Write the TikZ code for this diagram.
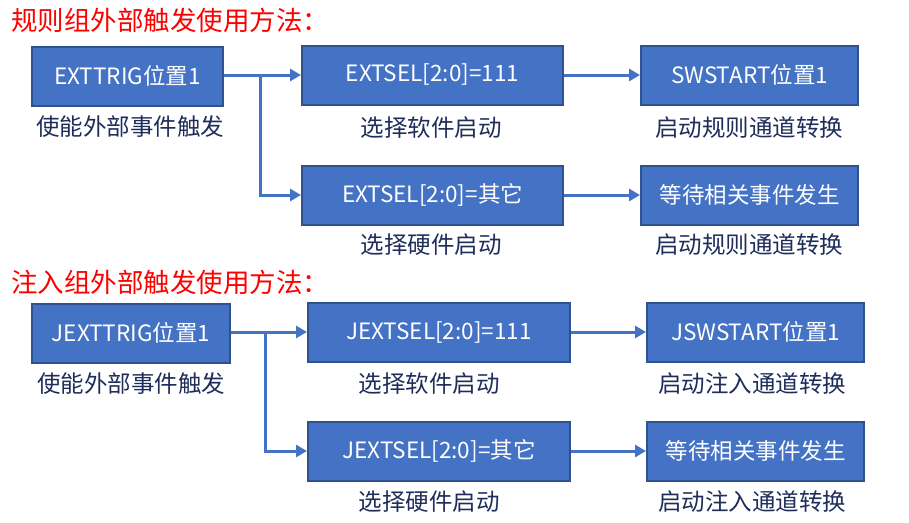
\documentclass[tikz,border=0pt]{standalone}
\usepackage{fontspec}
\setmainfont{Noto Sans CJK SC}
\usetikzlibrary{arrows.meta}
\definecolor{boxfill}{HTML}{4472C4}
\definecolor{boxline}{HTML}{2F528F}
\definecolor{labcol}{HTML}{1F2D5A}
\definecolor{titlecol}{HTML}{FF0000}
\tikzset{
  box/.style={draw=boxline, line width=2pt, fill=boxfill, text=white, inner sep=0pt,
    minimum height=#1, font=\fontsize{22.5}{26}\selectfont},
  box/.default=59pt,
  lab/.style={text=labcol, inner sep=0pt, font=\fontsize{23.5}{27}\selectfont},
  ttl/.style={text=titlecol, inner sep=0pt, anchor=west, font=\fontsize{26.5}{31}\selectfont},
  arr/.style={draw=boxfill, line width=3pt, -{Triangle[length=11pt,width=12pt]}},
}
\begin{document}
\begin{tikzpicture}[x=1pt,y=-1pt]
\useasboundingbox (0,0) rectangle (909,522);
% ---- top section
\node[ttl] (t1) at (11,20) {规则组外部触发使用方法：};
\node[box, minimum width=191pt] (a1) at (127.5,76) {EXTTRIG位置1};
\node[box, minimum width=261pt] (b1) at (432.5,75) {EXTSEL[2:0]=111};
\node[box, minimum width=217pt] (c1) at (749.5,75) {SWSTART位置1};
\node[box, minimum width=261pt] (d1) at (432.5,195) {EXTSEL[2:0]=其它};
\node[box, minimum width=217pt] (e1) at (749.5,195) {等待相关事件发生};
\node[lab] (la1) at (130,127) {使能外部事件触发};
\node[lab] (lb1) at (431,128) {选择软件启动};
\node[lab] (lc1) at (749,128) {启动规则通道转换};
\node[lab] (ld1) at (431,245) {选择硬件启动};
\node[lab] (le1) at (749,245) {启动规则通道转换};
\coordinate (br1) at (260,75);
\draw[arr] (a1.east |- b1.west) -- (b1.west);
\draw[arr] (br1) |- (d1.west);
\draw[arr] (b1.east) -- (c1.west);
\draw[arr] (d1.east) -- (e1.west);
% ---- bottom section
\node[ttl] (t2) at (11,282) {注入组外部触发使用方法：};
\node[box, minimum width=198pt] (a2) at (131,333) {JEXTTRIG位置1};
\node[box, minimum width=262pt] (b2) at (439,332) {JEXTSEL[2:0]=111};
\node[box, minimum width=217pt] (c2) at (755.5,332) {JSWSTART位置1};
\node[box, minimum width=262pt] (d2) at (439,451) {JEXTSEL[2:0]=其它};
\node[box, minimum width=217pt] (e2) at (755.5,451) {等待相关事件发生};
\node[lab] (la2) at (131,384) {使能外部事件触发};
\node[lab] (lb2) at (429,384) {选择软件启动};
\node[lab] (lc2) at (752,384) {启动注入通道转换};
\node[lab] (ld2) at (429,502) {选择硬件启动};
\node[lab] (le2) at (752,502) {启动注入通道转换};
\coordinate (br2) at (265,332);
\draw[arr] (a2.east |- b2.west) -- (b2.west);
\draw[arr] (br2) |- (d2.west);
\draw[arr] (b2.east) -- (c2.west);
\draw[arr] (d2.east) -- (e2.west);
\end{tikzpicture}
\end{document}
